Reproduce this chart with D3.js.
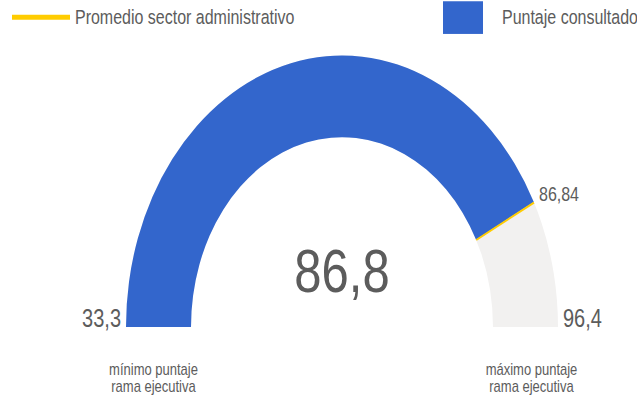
<!DOCTYPE html>
<html>
  <head>
    <meta charset="UTF-8" />
    <script src="https://d3js.org/d3.v7.min.js"></script>
    <style>
      body { margin: 0; background: #fff; }
      text { font-family: "Liberation Sans", Arial, sans-serif; fill: #5c5c5c; }
    </style>
  </head>
  <body>
    <svg width="637" height="402"></svg>
    <script>
      // datos
      const minimo = 33.3
      const maximo = 96.4
      const puntaje = 86.8
      const promedio = 86.84
      const legendLabels = ["Promedio sector administrativo", "Puntaje consultado"]
      const minLabel = ["mínimo puntaje", "rama ejecutiva"]
      const maxLabel = ["máximo puntaje", "rama ejecutiva"]

      const es = d3.formatLocale({ decimal: ",", thousands: ".", grouping: [3], currency: ["", "€"] })
      const f1 = es.format(".1f")
      const f2 = es.format(".2f")

      // la imagen original está estirada en vertical
      const sy = 1.257
      const svg = d3.select("svg")
      const root = svg.append("g").attr("transform", `scale(1,${sy})`)

      const cx = 342, cy = 260.1
      const rIn = 151, rOut = 216

      const angle = d3.scaleLinear()
        .domain([minimo, maximo])
        .range([-Math.PI / 2, Math.PI / 2])

      const arc = d3.arc().innerRadius(rIn).outerRadius(rOut)
      const g = root.append("g").attr("transform", `translate(${cx},${cy})`)

      // fondo gris
      g.append("path")
        .attr("d", arc({ startAngle: angle(minimo), endAngle: angle(maximo) }))
        .attr("fill", "#f2f1f0")

      // puntaje consultado
      g.append("path")
        .attr("d", arc({ startAngle: angle(minimo), endAngle: angle(puntaje) }))
        .attr("fill", "#3366cc")

      // línea del promedio
      const a = angle(promedio)
      g.append("line")
        .attr("x1", Math.sin(a) * rIn)
        .attr("y1", -Math.cos(a) * rIn)
        .attr("x2", Math.sin(a) * rOut)
        .attr("y2", -Math.cos(a) * rOut)
        .attr("stroke", "#ffcc00")
        .attr("stroke-width", 2)
        .attr("vector-effect", "non-scaling-stroke")

      g.append("text")
        .attr("x", Math.sin(a) * rOut + 5)
        .attr("y", -Math.cos(a) * rOut - 1)
        .attr("font-size", 16)
        .text(f2(promedio))

      // número central
      g.append("text")
        .attr("x", 0)
        .attr("y", -28)
        .attr("text-anchor", "middle")
        .attr("font-size", 49)
        .text(f1(puntaje))

      // extremos
      g.append("text")
        .attr("x", -rOut - 5)
        .attr("y", 0)
        .attr("text-anchor", "end")
        .attr("font-size", 20)
        .text(f1(minimo))
      g.append("text")
        .attr("x", rOut + 5)
        .attr("y", 0)
        .attr("text-anchor", "start")
        .attr("font-size", 20)
        .text(f1(maximo))

      // etiquetas inferiores
      const bottom = [[153.5, minLabel], [531.5, maxLabel]]
      bottom.forEach(([x, lines]) => {
        root.append("text")
          .attr("text-anchor", "middle")
          .attr("font-size", 13)
          .selectAll("tspan")
          .data(lines)
          .join("tspan")
          .attr("x", x)
          .attr("y", (d, i) => 298.5 + i * 13.6)
          .text((d) => d)
      })

      // leyenda
      root.append("line")
        .attr("x1", 12).attr("x2", 70)
        .attr("y1", 13.8).attr("y2", 13.8)
        .attr("stroke", "#ffcc00")
        .attr("stroke-width", 4)
      root.append("text")
        .attr("x", 75).attr("y", 19)
        .attr("font-size", 16)
        .text(legendLabels[0])

      root.append("rect")
        .attr("x", 443).attr("y", 1)
        .attr("width", 40).attr("height", 26)
        .attr("fill", "#3366cc")
      root.append("text")
        .attr("x", 502).attr("y", 19)
        .attr("font-size", 16)
        .text(legendLabels[1])
    </script>
  </body>
</html>
